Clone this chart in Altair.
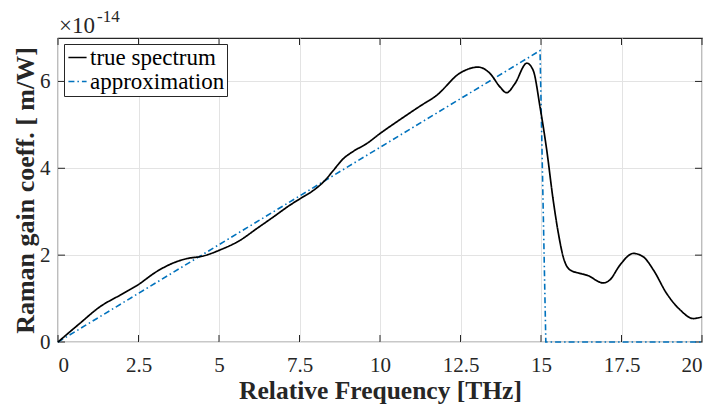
import altair as alt
import pandas as pd

# ---- data ----
X_TRUE = [0, 0.68, 1.30, 1.93, 2.47, 3.06, 3.58, 4.0, 4.51, 5.0, 5.65, 6.17, 6.69,
          7.2, 7.52, 7.93, 8.29, 8.55, 8.86, 9.17, 9.59, 10.0, 10.62, 11.24, 11.76,
          12.48, 13.05, 13.42, 13.73, 13.93, 14.19, 14.56, 14.76, 14.97, 15.18,
          15.38, 15.54, 15.69, 15.9, 16.21, 16.42, 16.94, 17.14, 17.45, 17.87,
          18.18, 18.49, 18.9, 19.32, 19.73, 20.0]
Y_TRUE = [0, 0.43, 0.81, 1.08, 1.31, 1.62, 1.82, 1.92, 1.98, 2.11, 2.34, 2.61, 2.88,
          3.15, 3.30, 3.49, 3.72, 3.95, 4.22, 4.39, 4.57, 4.80, 5.12, 5.43, 5.68,
          6.19, 6.33, 6.18, 5.87, 5.74, 5.95, 6.42, 6.25, 5.41, 4.41,
          3.26, 2.50, 1.96, 1.66, 1.58, 1.54, 1.36, 1.43, 1.77, 2.04,
          1.96, 1.66, 1.12, 0.74, 0.54, 0.58]
X_APPROX = [0, 14.97, 15.15, 20.0]
Y_APPROX = [0, 6.71, 0, 0]

SERIES = ["true spectrum", "approximation"]
X_TICKS = [0, 2.5, 5, 7.5, 10, 12.5, 15, 17.5, 20]
Y_TICKS = [0, 2, 4, 6]

FONT = "Liberation Serif"
AX = "#262626"
BLUE = "#0072BD"

true_df = pd.DataFrame({"f": X_TRUE, "g": Y_TRUE, "s": SERIES[0]})
appr_df = pd.DataFrame({"f": X_APPROX, "g": Y_APPROX, "s": SERIES[1]})

xscale = alt.Scale(domain=[0, 20], nice=False, zero=False)
yscale = alt.Scale(domain=[0, 7], nice=False)


def leg():
    return alt.Legend(title=None, orient="none", legendX=6, legendY=6,
                      symbolType="stroke", symbolSize=330, symbolStrokeWidth=1.6,
                      labelFont=FONT, labelFontSize=23, labelColor="#000",
                      strokeColor=AX, fillColor="white", padding=2,
                      rowPadding=0, labelOffset=1, cornerRadius=0)


color = alt.Color("s:N", scale=alt.Scale(domain=SERIES, range=["#000000", BLUE]), legend=leg())
dash = alt.StrokeDash("s:N", scale=alt.Scale(domain=SERIES, range=[[1, 0], [6, 3, 1.5, 3]]),
                      legend=leg())

x_enc = alt.X("f:Q", scale=xscale,
              axis=alt.Axis(title="Relative Frequency [THz]", values=X_TICKS,
                            labelExpr="datum.value", tickSize=0, labelPadding=12,
                            titlePadding=3, titleFontSize=25.5))
y_enc = alt.Y("g:Q", scale=yscale,
              axis=alt.Axis(title="Raman gain coeff. [ m/W]", values=Y_TICKS,
                            format="d", tickSize=0, labelPadding=8, titlePadding=1,
                            titleFontSize=26))

true_line = alt.Chart(true_df).mark_line(interpolate="monotone", strokeWidth=1.7).encode(
    x=x_enc, y=y_enc, color=color, strokeDash=dash)
appr_line = alt.Chart(appr_df).mark_line(strokeWidth=1.6).encode(
    x="f:Q", y="g:Q", color=color, strokeDash=dash)

xt = pd.DataFrame({"v": X_TICKS})
yt = pd.DataFrame({"v": Y_TICKS})
tick_b = alt.Chart(xt).mark_rule(color=AX, strokeWidth=1).encode(
    x="v:Q", y=alt.value(304), y2=alt.value(297))
tick_t = alt.Chart(xt).mark_rule(color=AX, strokeWidth=1).encode(
    x="v:Q", y=alt.value(0), y2=alt.value(7))
tick_l = alt.Chart(yt).mark_rule(color=AX, strokeWidth=1).encode(
    y="v:Q", x=alt.value(0), x2=alt.value(7))
tick_r = alt.Chart(yt).mark_rule(color=AX, strokeWidth=1).encode(
    y="v:Q", x=alt.value(644), x2=alt.value(637))

exp_base = alt.Chart(pd.DataFrame({"t": ["\u00d710"]})).mark_text(
    font=FONT, fontSize=23, align="left", baseline="alphabetic", color=AX).encode(
    text="t:N", x=alt.value(1), y=alt.value(-5))
exp_pow = alt.Chart(pd.DataFrame({"t": ["-14"]})).mark_text(
    font=FONT, fontSize=17, align="left", baseline="alphabetic", color=AX).encode(
    text="t:N", x=alt.value(39), y=alt.value(-16))

chart = alt.layer(tick_b, tick_t, tick_l, tick_r, appr_line, true_line,
                  exp_base, exp_pow).properties(
    width=644, height=304,
    autosize=alt.AutoSizeParams(type="none"),
    padding={"left": 58, "top": 38, "right": 12, "bottom": 62},
    background="white",
).configure(font=FONT).configure_view(stroke=AX, strokeWidth=1.2).configure_axis(
    grid=True, gridColor="#e3e3e3", gridWidth=1,
    domain=False,
    labelFont=FONT, labelFontSize=21, labelColor=AX,
    titleFont=FONT, titleFontWeight="bold", titleColor=AX,
).configure_legend(labelFont=FONT).configure_text(font=FONT)

chart.save("out.html", embed_options={"renderer": "svg", "actions": False})
